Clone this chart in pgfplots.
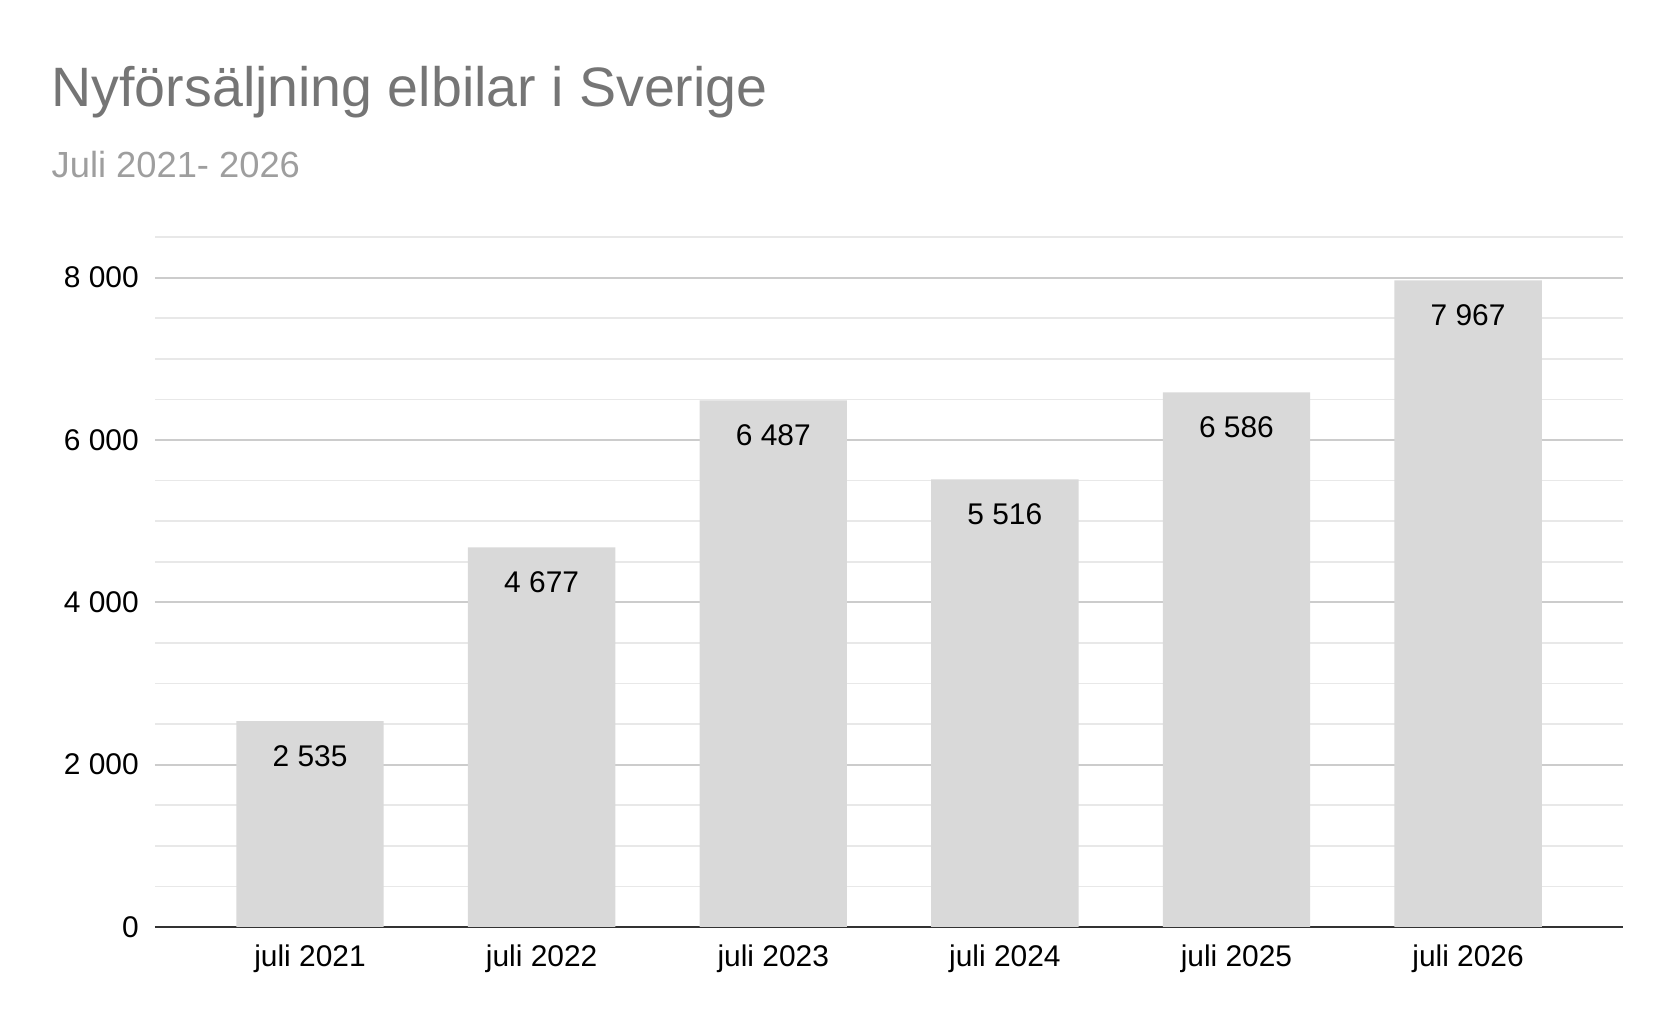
\documentclass[border=0pt]{standalone}
\usepackage{fontspec}
\setmainfont{Liberation Sans}
\usepackage{pgfplots}
\pgfplotsset{compat=1.18}
\definecolor{bar}{HTML}{D9D9D9}
\definecolor{gmaj}{HTML}{CCCCCC}
\definecolor{gmin}{HTML}{E8E8E8}
\definecolor{ttl}{HTML}{757575}
\definecolor{sub}{HTML}{9E9E9E}
\begin{document}
\begin{tikzpicture}
\path (0,0) rectangle (780pt,482pt);
\node[anchor=base west,font=\fontsize{26}{30}\selectfont,text=ttl,inner sep=0] at (24pt,432pt) {Nyförsäljning elbilar i Sverige};
\node[anchor=base west,font=\fontsize{17}{20}\selectfont,text=sub,inner sep=0] at (24pt,399pt) {Juli 2021- 2026};
\begin{axis}[at={(72.5pt,48pt)},anchor=south west,scale only axis,
 width=687.5pt,height=323pt,
 xmin=-0.67,xmax=5.67,ymin=0,ymax=8500,
 ybar,bar width=69pt,
 xtick={0,...,5},xticklabels={juli 2021,juli 2022,juli 2023,juli 2024,juli 2025,juli 2026},
 ytick={0,2000,4000,6000,8000},minor ytick={500,1000,...,8500},
 ymajorgrids,yminorgrids,
 major grid style={gmaj,line width=0.8pt},minor grid style={gmin,line width=0.8pt},
 axis x line*=bottom,axis y line*=left,
 y axis line style={draw=none},
 x axis line style={black!80,line width=0.8pt,-},
 major tick length=0pt,minor tick length=0pt,
 ticklabel style={font=\fontsize{14}{16}\selectfont},
 xticklabel style={yshift=-5pt},
 /pgf/number format/assume math mode=true,
 /pgf/number format/1000 sep={\ },
 yticklabel style={xshift=-4pt},
 clip=false,
 nodes near coords,
 nodes near coords style={anchor=north,yshift=-8pt,font=\fontsize{14}{16}\selectfont,/pgf/number format/1000 sep={\ }},
]
\addplot[fill=bar,draw=none] coordinates {(0,2535)(1,4677)(2,6487)(3,5516)(4,6586)(5,7967)};
\end{axis}
\end{tikzpicture}
\end{document}
